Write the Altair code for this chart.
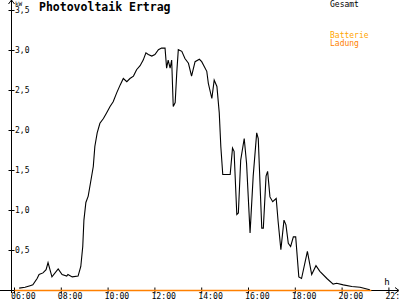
import altair as alt
import pandas as pd

# --- data ---
times = ["06:12", "06:27", "06:40", "06:47", "06:58", "07:03", "07:13", "07:21", "07:26", "07:36",
         "07:52", "08:02", "08:14", "08:17", "08:28", "08:43", "08:50", "08:55", "08:58", "09:03",
         "09:09", "09:15", "09:22", "09:26", "09:32", "09:39", "09:48", "09:56", "10:05", "10:13",
         "10:22", "10:31", "10:39", "10:48", "10:56", "11:05", "11:13", "11:22", "11:30", "11:37",
         "11:43", "11:52", "12:00", "12:09", "12:17", "12:26", "12:30", "12:34", "12:39", "12:43",
         "12:47", "12:52", "12:56", "13:00", "13:09", "13:17", "13:26", "13:34", "13:43", "13:54",
         "14:00", "14:13", "14:17", "14:26", "14:32", "14:39", "14:45", "14:49", "14:54", "15:13",
         "15:19", "15:23", "15:30", "15:34", "15:40", "15:49", "15:55", "16:04", "16:12", "16:21",
         "16:25", "16:34", "16:38", "16:45", "16:49", "16:55", "17:02", "17:11", "17:16", "17:23",
         "17:31", "17:36", "17:42", "17:48", "17:55", "18:01", "18:09", "18:16", "18:31", "18:42",
         "18:53", "19:03", "19:21", "19:37", "19:46", "20:03", "20:25", "20:46", "21:11"]
gesamt = [0.03, 0.04, 0.06, 0.07, 0.15, 0.20, 0.22, 0.26, 0.35, 0.17,
          0.27, 0.20, 0.18, 0.20, 0.17, 0.18, 0.30, 0.55, 0.88, 1.10,
          1.18, 1.35, 1.55, 1.80, 1.97, 2.09, 2.15, 2.22, 2.30, 2.36,
          2.47, 2.57, 2.65, 2.61, 2.65, 2.68, 2.76, 2.81, 2.88, 2.97,
          2.95, 2.93, 2.95, 3.01, 3.03, 3.03, 2.78, 2.88, 2.78, 2.88,
          2.30, 2.35, 2.72, 3.01, 2.99, 2.90, 2.84, 2.68, 2.86, 2.89,
          2.86, 2.74, 2.59, 2.40, 2.63, 2.55, 2.22, 1.80, 1.45, 1.45,
          1.78, 1.74, 0.95, 0.97, 1.63, 1.90, 1.59, 0.72, 1.43, 1.97,
          1.90, 0.78, 0.78, 1.43, 1.49, 1.17, 1.11, 1.15, 0.86, 0.51,
          0.88, 0.82, 0.59, 0.55, 0.67, 0.67, 0.17, 0.15, 0.49, 0.20,
          0.31, 0.24, 0.15, 0.08, 0.09, 0.07, 0.05, 0.04, 0.01]

ladung_times = ["06:00", "21:15"]
ladung = [0.0, 0.0]

x_ticks = [6, 8, 10, 12, 14, 16, 18, 20, 22]
x_labels = ["06:00", "08:00", "10:00", "12:00", "14:00", "16:00", "18:00", "20:00", "22:"]
y_ticks = [0.5, 1.0, 1.5, 2.0, 2.5, 3.0, 3.5]
y_labels = ["0,5", "1,0", "1,5", "2,0", "2,5", "3,0", "3,5"]
texts = ["kW", "h", "Photovoltaik Ertrag", "Gesamt", "Batterie", "Ladung"]


def to_hours(s):
    h, m = s.split(":")
    return int(h) + int(m) / 60.0


df = pd.DataFrame({"t": [to_hours(s) for s in times], "v": gesamt})
df_l = pd.DataFrame({"t": [to_hours(s) for s in ladung_times], "v": ladung})
df_xt = pd.DataFrame({"t": x_ticks, "lab": x_labels})
df_yt = pd.DataFrame({"v": y_ticks, "lab": y_labels})

FONT = "DejaVu Sans Mono"
xs = alt.Scale(domain=[5.3803, 22.474], nice=False, zero=False)
ys = alt.Scale(domain=[-0.11875, 3.63125], nice=False, zero=False)
X = lambda f: alt.X(f, type="quantitative", scale=xs, axis=None)
Y = lambda f: alt.Y(f, type="quantitative", scale=ys, axis=None)

base_dummy = pd.DataFrame({"a": [0]})

# axes lines
x_axis = alt.Chart(base_dummy).mark_rule(color="black", strokeWidth=1).encode(
    x=alt.value(0), x2=alt.value(398), y=alt.value(290.5))
y_axis = alt.Chart(base_dummy).mark_rule(color="black", strokeWidth=1).encode(
    x=alt.value(11.5), y=alt.value(0), y2=alt.value(293))
arrows = alt.Chart(pd.DataFrame({
    "x1": [11.5, 11.5, 399, 399], "y1": [0, 0, 290.5, 290.5],
    "x2": [8.5, 14.5, 395, 395], "y2": [4, 4, 287.5, 293.5]})).mark_rule(
    color="black", strokeWidth=1).encode(
    x=alt.X("x1:Q", scale=None), y=alt.Y("y1:Q", scale=None),
    x2="x2:Q", y2="y2:Q")

x_tick_marks = alt.Chart(df_xt).mark_rule(color="black").encode(
    x=X("t"), y=alt.value(287.5), y2=alt.value(293.5))
x_tick_labels = alt.Chart(df_xt).mark_text(
    font=FONT, fontSize=8.2, align="left", baseline="alphabetic", dx=-3.5, color="black").encode(
    x=X("t"), y=alt.value(298.5), text="lab:N")
y_tick_marks = alt.Chart(df_yt).mark_rule(color="black").encode(
    y=Y("v"), x=alt.value(8.5), x2=alt.value(14.5))
y_tick_labels = alt.Chart(df_yt).mark_text(
    font=FONT, fontSize=8, align="left", baseline="middle", color="black").encode(
    y=Y("v"), x=alt.value(15), text="lab:N")


def label(txt, x, y, size, color="black", weight="normal", align="left"):
    return alt.Chart(base_dummy).mark_text(
        text=txt, font=FONT, fontSize=size, fontWeight=weight, color=color,
        align=align, baseline="alphabetic").encode(x=alt.value(x), y=alt.value(y))


line_l = alt.Chart(df_l).mark_line(color="#FF8000", strokeWidth=1.6).encode(
    x=X("t"), y=Y("v"))
line_g = alt.Chart(df).mark_line(color="black", strokeWidth=1.1).encode(
    x=X("t"), y=Y("v"))

chart = alt.layer(
    x_axis, y_axis, arrows, x_tick_marks, x_tick_labels, y_tick_marks, y_tick_labels,
    label(texts[0], 15, 5.5, 6),
    label(texts[1], 387, 284.5, 9, align="center"),
    label(texts[2], 39, 10.5, 11.5, weight="bold"),
    label(texts[3], 330, 7, 8),
    label(texts[4], 330, 38, 8, color="#FFA500"),
    label(texts[5], 330, 45.5, 8, color="#FF7F00"),
    line_l, line_g,
).properties(
    width=400, height=300, padding=0, autosize=alt.AutoSizeParams(type="none"),
    background="white"
).configure_view(stroke=None)

chart.save("out.html", embed_options={"renderer": "svg", "actions": False})
